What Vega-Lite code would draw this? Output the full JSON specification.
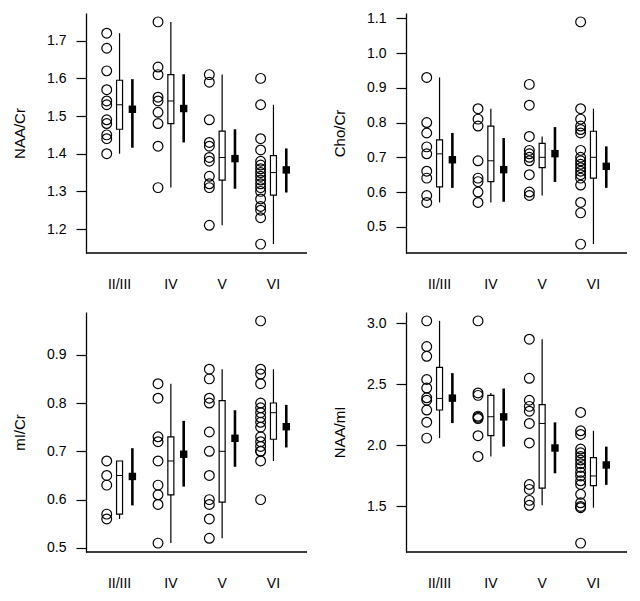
{
  "$schema": "https://vega.github.io/schema/vega-lite/v6.json",
  "background": "white",
  "padding": {"left": 12, "top": 11, "right": 5, "bottom": 5},
  "datasets": {
    "pts": [
      {"p":"A","g":"II/III","v":1.72},{"p":"A","g":"II/III","v":1.68},{"p":"A","g":"II/III","v":1.62},{"p":"A","g":"II/III","v":1.57},{"p":"A","g":"II/III","v":1.54},{"p":"A","g":"II/III","v":1.53},{"p":"A","g":"II/III","v":1.49},{"p":"A","g":"II/III","v":1.48},{"p":"A","g":"II/III","v":1.45},{"p":"A","g":"II/III","v":1.44},{"p":"A","g":"II/III","v":1.40},
      {"p":"A","g":"IV","v":1.75},{"p":"A","g":"IV","v":1.63},{"p":"A","g":"IV","v":1.61},{"p":"A","g":"IV","v":1.55},{"p":"A","g":"IV","v":1.54},{"p":"A","g":"IV","v":1.51},{"p":"A","g":"IV","v":1.48},{"p":"A","g":"IV","v":1.42},{"p":"A","g":"IV","v":1.31},
      {"p":"A","g":"V","v":1.61},{"p":"A","g":"V","v":1.59},{"p":"A","g":"V","v":1.49},{"p":"A","g":"V","v":1.43},{"p":"A","g":"V","v":1.42},{"p":"A","g":"V","v":1.39},{"p":"A","g":"V","v":1.38},{"p":"A","g":"V","v":1.34},{"p":"A","g":"V","v":1.32},{"p":"A","g":"V","v":1.31},{"p":"A","g":"V","v":1.21},
      {"p":"A","g":"VI","v":1.60},{"p":"A","g":"VI","v":1.53},{"p":"A","g":"VI","v":1.44},{"p":"A","g":"VI","v":1.41},{"p":"A","g":"VI","v":1.38},{"p":"A","g":"VI","v":1.37},{"p":"A","g":"VI","v":1.36},{"p":"A","g":"VI","v":1.35},{"p":"A","g":"VI","v":1.34},{"p":"A","g":"VI","v":1.33},{"p":"A","g":"VI","v":1.32},{"p":"A","g":"VI","v":1.31},{"p":"A","g":"VI","v":1.30},{"p":"A","g":"VI","v":1.28},{"p":"A","g":"VI","v":1.26},{"p":"A","g":"VI","v":1.25},{"p":"A","g":"VI","v":1.23},{"p":"A","g":"VI","v":1.16},
      {"p":"B","g":"II/III","v":0.93},{"p":"B","g":"II/III","v":0.80},{"p":"B","g":"II/III","v":0.77},{"p":"B","g":"II/III","v":0.73},{"p":"B","g":"II/III","v":0.71},{"p":"B","g":"II/III","v":0.66},{"p":"B","g":"II/III","v":0.64},{"p":"B","g":"II/III","v":0.59},{"p":"B","g":"II/III","v":0.57},
      {"p":"B","g":"IV","v":0.84},{"p":"B","g":"IV","v":0.81},{"p":"B","g":"IV","v":0.79},{"p":"B","g":"IV","v":0.69},{"p":"B","g":"IV","v":0.64},{"p":"B","g":"IV","v":0.63},{"p":"B","g":"IV","v":0.60},{"p":"B","g":"IV","v":0.57},
      {"p":"B","g":"V","v":0.91},{"p":"B","g":"V","v":0.85},{"p":"B","g":"V","v":0.76},{"p":"B","g":"V","v":0.72},{"p":"B","g":"V","v":0.71},{"p":"B","g":"V","v":0.70},{"p":"B","g":"V","v":0.69},{"p":"B","g":"V","v":0.65},{"p":"B","g":"V","v":0.60},{"p":"B","g":"V","v":0.59},
      {"p":"B","g":"VI","v":1.09},{"p":"B","g":"VI","v":0.84},{"p":"B","g":"VI","v":0.81},{"p":"B","g":"VI","v":0.79},{"p":"B","g":"VI","v":0.78},{"p":"B","g":"VI","v":0.77},{"p":"B","g":"VI","v":0.72},{"p":"B","g":"VI","v":0.70},{"p":"B","g":"VI","v":0.69},{"p":"B","g":"VI","v":0.68},{"p":"B","g":"VI","v":0.67},{"p":"B","g":"VI","v":0.66},{"p":"B","g":"VI","v":0.65},{"p":"B","g":"VI","v":0.64},{"p":"B","g":"VI","v":0.62},{"p":"B","g":"VI","v":0.57},{"p":"B","g":"VI","v":0.54},{"p":"B","g":"VI","v":0.45},
      {"p":"C","g":"II/III","v":0.68},{"p":"C","g":"II/III","v":0.65},{"p":"C","g":"II/III","v":0.63},{"p":"C","g":"II/III","v":0.57},{"p":"C","g":"II/III","v":0.56},
      {"p":"C","g":"IV","v":0.84},{"p":"C","g":"IV","v":0.81},{"p":"C","g":"IV","v":0.73},{"p":"C","g":"IV","v":0.72},{"p":"C","g":"IV","v":0.68},{"p":"C","g":"IV","v":0.63},{"p":"C","g":"IV","v":0.61},{"p":"C","g":"IV","v":0.59},{"p":"C","g":"IV","v":0.51},
      {"p":"C","g":"V","v":0.87},{"p":"C","g":"V","v":0.85},{"p":"C","g":"V","v":0.81},{"p":"C","g":"V","v":0.80},{"p":"C","g":"V","v":0.74},{"p":"C","g":"V","v":0.70},{"p":"C","g":"V","v":0.65},{"p":"C","g":"V","v":0.60},{"p":"C","g":"V","v":0.59},{"p":"C","g":"V","v":0.56},{"p":"C","g":"V","v":0.52},
      {"p":"C","g":"VI","v":0.97},{"p":"C","g":"VI","v":0.87},{"p":"C","g":"VI","v":0.86},{"p":"C","g":"VI","v":0.84},{"p":"C","g":"VI","v":0.80},{"p":"C","g":"VI","v":0.79},{"p":"C","g":"VI","v":0.78},{"p":"C","g":"VI","v":0.77},{"p":"C","g":"VI","v":0.76},{"p":"C","g":"VI","v":0.75},{"p":"C","g":"VI","v":0.73},{"p":"C","g":"VI","v":0.72},{"p":"C","g":"VI","v":0.71},{"p":"C","g":"VI","v":0.70},{"p":"C","g":"VI","v":0.70},{"p":"C","g":"VI","v":0.68},{"p":"C","g":"VI","v":0.60},
      {"p":"D","g":"II/III","v":3.02},{"p":"D","g":"II/III","v":2.81},{"p":"D","g":"II/III","v":2.73},{"p":"D","g":"II/III","v":2.54},{"p":"D","g":"II/III","v":2.47},{"p":"D","g":"II/III","v":2.39},{"p":"D","g":"II/III","v":2.37},{"p":"D","g":"II/III","v":2.29},{"p":"D","g":"II/III","v":2.19},{"p":"D","g":"II/III","v":2.06},
      {"p":"D","g":"IV","v":3.02},{"p":"D","g":"IV","v":2.43},{"p":"D","g":"IV","v":2.41},{"p":"D","g":"IV","v":2.24},{"p":"D","g":"IV","v":2.23},{"p":"D","g":"IV","v":2.22},{"p":"D","g":"IV","v":2.08},{"p":"D","g":"IV","v":1.91},
      {"p":"D","g":"V","v":2.87},{"p":"D","g":"V","v":2.55},{"p":"D","g":"V","v":2.37},{"p":"D","g":"V","v":2.32},{"p":"D","g":"V","v":2.28},{"p":"D","g":"V","v":2.18},{"p":"D","g":"V","v":2.02},{"p":"D","g":"V","v":1.68},{"p":"D","g":"V","v":1.64},{"p":"D","g":"V","v":1.55},{"p":"D","g":"V","v":1.51},
      {"p":"D","g":"VI","v":2.27},{"p":"D","g":"VI","v":2.12},{"p":"D","g":"VI","v":2.09},{"p":"D","g":"VI","v":1.97},{"p":"D","g":"VI","v":1.94},{"p":"D","g":"VI","v":1.91},{"p":"D","g":"VI","v":1.88},{"p":"D","g":"VI","v":1.85},{"p":"D","g":"VI","v":1.82},{"p":"D","g":"VI","v":1.78},{"p":"D","g":"VI","v":1.75},{"p":"D","g":"VI","v":1.71},{"p":"D","g":"VI","v":1.68},{"p":"D","g":"VI","v":1.60},{"p":"D","g":"VI","v":1.53},{"p":"D","g":"VI","v":1.50},{"p":"D","g":"VI","v":1.49},{"p":"D","g":"VI","v":1.20}
    ],
    "box": [
      {"p":"A","g":"II/III","lo":1.40,"q1":1.465,"med":1.53,"q3":1.595,"hi":1.72},
      {"p":"A","g":"IV","lo":1.31,"q1":1.48,"med":1.54,"q3":1.61,"hi":1.75},
      {"p":"A","g":"V","lo":1.21,"q1":1.33,"med":1.39,"q3":1.46,"hi":1.61},
      {"p":"A","g":"VI","lo":1.16,"q1":1.29,"med":1.35,"q3":1.395,"hi":1.53},
      {"p":"B","g":"II/III","lo":0.57,"q1":0.615,"med":0.71,"q3":0.75,"hi":0.93},
      {"p":"B","g":"IV","lo":0.57,"q1":0.63,"med":0.69,"q3":0.79,"hi":0.84},
      {"p":"B","g":"V","lo":0.59,"q1":0.67,"med":0.70,"q3":0.74,"hi":0.76},
      {"p":"B","g":"VI","lo":0.45,"q1":0.64,"med":0.70,"q3":0.775,"hi":0.84},
      {"p":"C","g":"II/III","lo":0.56,"q1":0.57,"med":0.65,"q3":0.68,"hi":0.68},
      {"p":"C","g":"IV","lo":0.51,"q1":0.61,"med":0.68,"q3":0.73,"hi":0.84},
      {"p":"C","g":"V","lo":0.52,"q1":0.595,"med":0.70,"q3":0.805,"hi":0.87},
      {"p":"C","g":"VI","lo":0.68,"q1":0.725,"med":0.78,"q3":0.80,"hi":0.87},
      {"p":"D","g":"II/III","lo":2.06,"q1":2.29,"med":2.385,"q3":2.64,"hi":3.02},
      {"p":"D","g":"IV","lo":1.91,"q1":2.08,"med":2.235,"q3":2.41,"hi":2.43},
      {"p":"D","g":"V","lo":1.51,"q1":1.65,"med":2.18,"q3":2.335,"hi":2.87},
      {"p":"D","g":"VI","lo":1.49,"q1":1.67,"med":1.75,"q3":1.90,"hi":2.12}
    ],
    "mean": [
      {"p":"A","g":"II/III","m":1.518,"lo":1.416,"hi":1.598},
      {"p":"A","g":"IV","m":1.52,"lo":1.43,"hi":1.611},
      {"p":"A","g":"V","m":1.387,"lo":1.307,"hi":1.465},
      {"p":"A","g":"VI","m":1.357,"lo":1.297,"hi":1.414},
      {"p":"B","g":"II/III","m":0.693,"lo":0.612,"hi":0.770},
      {"p":"B","g":"IV","m":0.6645,"lo":0.572,"hi":0.7555},
      {"p":"B","g":"V","m":0.7105,"lo":0.629,"hi":0.787},
      {"p":"B","g":"VI","m":0.674,"lo":0.612,"hi":0.7315},
      {"p":"C","g":"II/III","m":0.648,"lo":0.588,"hi":0.7065},
      {"p":"C","g":"IV","m":0.694,"lo":0.627,"hi":0.763},
      {"p":"C","g":"V","m":0.727,"lo":0.668,"hi":0.785},
      {"p":"C","g":"VI","m":0.751,"lo":0.708,"hi":0.796},
      {"p":"D","g":"II/III","m":2.3875,"lo":2.183,"hi":2.592},
      {"p":"D","g":"IV","m":2.234,"lo":1.99,"hi":2.466},
      {"p":"D","g":"V","m":1.979,"lo":1.772,"hi":2.189},
      {"p":"D","g":"VI","m":1.84,"lo":1.677,"hi":1.99}
    ]
  },
  "columns": 2,
  "spacing": {"row": 59, "column": 99},
  "bounds": "flush",
  "concat": [
    {
      "width": 221, "height": 240,
      "layer": [
        {"data": {"values": [{}]}, "mark": {"type": "rule", "color": "black", "strokeWidth": 1.3},
         "encoding": {"y": {"datum": 1.1364, "type": "quantitative", "title": "NAA/Cr"}}},
        {"data": {"name": "pts"}, "transform": [{"filter": "datum.p == 'A'"}],
         "mark": {"type": "point", "shape": "circle", "filled": false, "stroke": "black", "strokeWidth": 1.2, "size": 95, "opacity": 1},
         "encoding": {"x": {"field": "g", "type": "nominal", "title": null, "scale": {"domain": ["II/III","IV","V","VI"], "paddingInner": 0, "paddingOuter": 0.154}},
                      "xOffset": {"datum": "pts", "scale": {"domain": ["pts","box","mean"], "paddingInner": 0, "paddingOuter": 0.5}},
                      "y": {"field": "v", "type": "quantitative", "title": "NAA/Cr", "scale": {"domain": [1.1364, 1.7736], "nice": false, "zero": false}, "axis": {"values": [1.2,1.3,1.4,1.5,1.6,1.7], "tickCount": 20}}}},
        {"data": {"name": "box"}, "transform": [{"filter": "datum.p == 'A'"}],
         "mark": {"type": "rule", "color": "black", "strokeWidth": 1.2},
         "encoding": {"x": {"field": "g", "type": "nominal", "title": null}, "xOffset": {"datum": "box"},
                      "y": {"field": "lo", "type": "quantitative", "title": "NAA/Cr"}, "y2": {"field": "hi"}}},
        {"data": {"name": "box"}, "transform": [{"filter": "datum.p == 'A'"}],
         "mark": {"type": "bar", "size": 6, "fill": "white", "stroke": "black", "strokeWidth": 1.2},
         "encoding": {"x": {"field": "g", "type": "nominal", "title": null}, "xOffset": {"datum": "box"},
                      "y": {"field": "q1", "type": "quantitative", "title": "NAA/Cr"}, "y2": {"field": "q3"}}},
        {"data": {"name": "box"}, "transform": [{"filter": "datum.p == 'A'"}],
         "mark": {"type": "tick", "size": 6, "thickness": 1, "color": "black", "opacity": 1},
         "encoding": {"x": {"field": "g", "type": "nominal", "title": null}, "xOffset": {"datum": "box"},
                      "y": {"field": "med", "type": "quantitative", "title": "NAA/Cr"}}},
        {"data": {"name": "mean"}, "transform": [{"filter": "datum.p == 'A'"}],
         "mark": {"type": "rule", "color": "black", "strokeWidth": 2.6},
         "encoding": {"x": {"field": "g", "type": "nominal", "title": null}, "xOffset": {"datum": "mean"},
                      "y": {"field": "lo", "type": "quantitative", "title": "NAA/Cr"}, "y2": {"field": "hi"}}},
        {"data": {"name": "mean"}, "transform": [{"filter": "datum.p == 'A'"}],
         "mark": {"type": "point", "shape": "square", "filled": true, "color": "black", "size": 55, "opacity": 1},
         "encoding": {"x": {"field": "g", "type": "nominal", "title": null}, "xOffset": {"datum": "mean"},
                      "y": {"field": "m", "type": "quantitative", "title": "NAA/Cr"}}}
      ]
    },
    {
      "width": 221, "height": 240,
      "layer": [
        {"data": {"values": [{}]}, "mark": {"type": "rule", "color": "black", "strokeWidth": 1.3},
         "encoding": {"y": {"datum": 0.4244, "type": "quantitative", "title": "Cho/Cr"}}},
        {"data": {"name": "pts"}, "transform": [{"filter": "datum.p == 'B'"}],
         "mark": {"type": "point", "shape": "circle", "filled": false, "stroke": "black", "strokeWidth": 1.2, "size": 95, "opacity": 1},
         "encoding": {"x": {"field": "g", "type": "nominal", "title": null, "scale": {"domain": ["II/III","IV","V","VI"], "paddingInner": 0, "paddingOuter": 0.154}},
                      "xOffset": {"datum": "pts", "scale": {"domain": ["pts","box","mean"], "paddingInner": 0, "paddingOuter": 0.5}},
                      "y": {"field": "v", "type": "quantitative", "title": "Cho/Cr", "scale": {"domain": [0.4244, 1.1156], "nice": false, "zero": false}, "axis": {"values": [0.5,0.6,0.7,0.8,0.9,1.0,1.1], "tickCount": 20}}}},
        {"data": {"name": "box"}, "transform": [{"filter": "datum.p == 'B'"}],
         "mark": {"type": "rule", "color": "black", "strokeWidth": 1.2},
         "encoding": {"x": {"field": "g", "type": "nominal", "title": null}, "xOffset": {"datum": "box"},
                      "y": {"field": "lo", "type": "quantitative", "title": "Cho/Cr"}, "y2": {"field": "hi"}}},
        {"data": {"name": "box"}, "transform": [{"filter": "datum.p == 'B'"}],
         "mark": {"type": "bar", "size": 6, "fill": "white", "stroke": "black", "strokeWidth": 1.2},
         "encoding": {"x": {"field": "g", "type": "nominal", "title": null}, "xOffset": {"datum": "box"},
                      "y": {"field": "q1", "type": "quantitative", "title": "Cho/Cr"}, "y2": {"field": "q3"}}},
        {"data": {"name": "box"}, "transform": [{"filter": "datum.p == 'B'"}],
         "mark": {"type": "tick", "size": 6, "thickness": 1, "color": "black", "opacity": 1},
         "encoding": {"x": {"field": "g", "type": "nominal", "title": null}, "xOffset": {"datum": "box"},
                      "y": {"field": "med", "type": "quantitative", "title": "Cho/Cr"}}},
        {"data": {"name": "mean"}, "transform": [{"filter": "datum.p == 'B'"}],
         "mark": {"type": "rule", "color": "black", "strokeWidth": 2.6},
         "encoding": {"x": {"field": "g", "type": "nominal", "title": null}, "xOffset": {"datum": "mean"},
                      "y": {"field": "lo", "type": "quantitative", "title": "Cho/Cr"}, "y2": {"field": "hi"}}},
        {"data": {"name": "mean"}, "transform": [{"filter": "datum.p == 'B'"}],
         "mark": {"type": "point", "shape": "square", "filled": true, "color": "black", "size": 55, "opacity": 1},
         "encoding": {"x": {"field": "g", "type": "nominal", "title": null}, "xOffset": {"datum": "mean"},
                      "y": {"field": "m", "type": "quantitative", "title": "Cho/Cr"}}}
      ]
    },
    {
      "width": 221, "height": 240,
      "layer": [
        {"data": {"values": [{}]}, "mark": {"type": "rule", "color": "black", "strokeWidth": 1.3},
         "encoding": {"y": {"datum": 0.4916, "type": "quantitative", "title": "mI/Cr"}}},
        {"data": {"name": "pts"}, "transform": [{"filter": "datum.p == 'C'"}],
         "mark": {"type": "point", "shape": "circle", "filled": false, "stroke": "black", "strokeWidth": 1.2, "size": 95, "opacity": 1},
         "encoding": {"x": {"field": "g", "type": "nominal", "title": null, "scale": {"domain": ["II/III","IV","V","VI"], "paddingInner": 0, "paddingOuter": 0.154}},
                      "xOffset": {"datum": "pts", "scale": {"domain": ["pts","box","mean"], "paddingInner": 0, "paddingOuter": 0.5}},
                      "y": {"field": "v", "type": "quantitative", "title": "mI/Cr", "scale": {"domain": [0.4916, 0.9884], "nice": false, "zero": false}, "axis": {"values": [0.5,0.6,0.7,0.8,0.9], "tickCount": 20}}}},
        {"data": {"name": "box"}, "transform": [{"filter": "datum.p == 'C'"}],
         "mark": {"type": "rule", "color": "black", "strokeWidth": 1.2},
         "encoding": {"x": {"field": "g", "type": "nominal", "title": null}, "xOffset": {"datum": "box"},
                      "y": {"field": "lo", "type": "quantitative", "title": "mI/Cr"}, "y2": {"field": "hi"}}},
        {"data": {"name": "box"}, "transform": [{"filter": "datum.p == 'C'"}],
         "mark": {"type": "bar", "size": 6, "fill": "white", "stroke": "black", "strokeWidth": 1.2},
         "encoding": {"x": {"field": "g", "type": "nominal", "title": null}, "xOffset": {"datum": "box"},
                      "y": {"field": "q1", "type": "quantitative", "title": "mI/Cr"}, "y2": {"field": "q3"}}},
        {"data": {"name": "box"}, "transform": [{"filter": "datum.p == 'C'"}],
         "mark": {"type": "tick", "size": 6, "thickness": 1, "color": "black", "opacity": 1},
         "encoding": {"x": {"field": "g", "type": "nominal", "title": null}, "xOffset": {"datum": "box"},
                      "y": {"field": "med", "type": "quantitative", "title": "mI/Cr"}}},
        {"data": {"name": "mean"}, "transform": [{"filter": "datum.p == 'C'"}],
         "mark": {"type": "rule", "color": "black", "strokeWidth": 2.6},
         "encoding": {"x": {"field": "g", "type": "nominal", "title": null}, "xOffset": {"datum": "mean"},
                      "y": {"field": "lo", "type": "quantitative", "title": "mI/Cr"}, "y2": {"field": "hi"}}},
        {"data": {"name": "mean"}, "transform": [{"filter": "datum.p == 'C'"}],
         "mark": {"type": "point", "shape": "square", "filled": true, "color": "black", "size": 55, "opacity": 1},
         "encoding": {"x": {"field": "g", "type": "nominal", "title": null}, "xOffset": {"datum": "mean"},
                      "y": {"field": "m", "type": "quantitative", "title": "mI/Cr"}}}
      ]
    },
    {
      "width": 221, "height": 240,
      "layer": [
        {"data": {"values": [{}]}, "mark": {"type": "rule", "color": "black", "strokeWidth": 1.3},
         "encoding": {"y": {"datum": 1.1272, "type": "quantitative", "title": "NAA/mI"}}},
        {"data": {"name": "pts"}, "transform": [{"filter": "datum.p == 'D'"}],
         "mark": {"type": "point", "shape": "circle", "filled": false, "stroke": "black", "strokeWidth": 1.2, "size": 95, "opacity": 1},
         "encoding": {"x": {"field": "g", "type": "nominal", "title": null, "scale": {"domain": ["II/III","IV","V","VI"], "paddingInner": 0, "paddingOuter": 0.154}},
                      "xOffset": {"datum": "pts", "scale": {"domain": ["pts","box","mean"], "paddingInner": 0, "paddingOuter": 0.5}},
                      "y": {"field": "v", "type": "quantitative", "title": "NAA/mI", "scale": {"domain": [1.1272, 3.0928], "nice": false, "zero": false}, "axis": {"values": [1.5,2.0,2.5,3.0], "tickCount": 20}}}},
        {"data": {"name": "box"}, "transform": [{"filter": "datum.p == 'D'"}],
         "mark": {"type": "rule", "color": "black", "strokeWidth": 1.2},
         "encoding": {"x": {"field": "g", "type": "nominal", "title": null}, "xOffset": {"datum": "box"},
                      "y": {"field": "lo", "type": "quantitative", "title": "NAA/mI"}, "y2": {"field": "hi"}}},
        {"data": {"name": "box"}, "transform": [{"filter": "datum.p == 'D'"}],
         "mark": {"type": "bar", "size": 6, "fill": "white", "stroke": "black", "strokeWidth": 1.2},
         "encoding": {"x": {"field": "g", "type": "nominal", "title": null}, "xOffset": {"datum": "box"},
                      "y": {"field": "q1", "type": "quantitative", "title": "NAA/mI"}, "y2": {"field": "q3"}}},
        {"data": {"name": "box"}, "transform": [{"filter": "datum.p == 'D'"}],
         "mark": {"type": "tick", "size": 6, "thickness": 1, "color": "black", "opacity": 1},
         "encoding": {"x": {"field": "g", "type": "nominal", "title": null}, "xOffset": {"datum": "box"},
                      "y": {"field": "med", "type": "quantitative", "title": "NAA/mI"}}},
        {"data": {"name": "mean"}, "transform": [{"filter": "datum.p == 'D'"}],
         "mark": {"type": "rule", "color": "black", "strokeWidth": 2.6},
         "encoding": {"x": {"field": "g", "type": "nominal", "title": null}, "xOffset": {"datum": "mean"},
                      "y": {"field": "lo", "type": "quantitative", "title": "NAA/mI"}, "y2": {"field": "hi"}}},
        {"data": {"name": "mean"}, "transform": [{"filter": "datum.p == 'D'"}],
         "mark": {"type": "point", "shape": "square", "filled": true, "color": "black", "size": 55, "opacity": 1},
         "encoding": {"x": {"field": "g", "type": "nominal", "title": null}, "xOffset": {"datum": "mean"},
                      "y": {"field": "m", "type": "quantitative", "title": "NAA/mI"}}}
      ]
    }
  ],
  "config": {
    "view": {"stroke": null},
    "font": "Liberation Sans",
    "axis": {"grid": false, "domainColor": "black", "domainWidth": 1.3, "tickColor": "black", "tickWidth": 1.2,
             "labelColor": "black", "titleColor": "black", "labelFont": "Liberation Sans", "titleFont": "Liberation Sans",
             "labelFontSize": 14, "titleFontSize": 15, "titleFontWeight": "normal", "labelOverlap": false},
    "axisBand": {"domain": false, "ticks": false, "labelPadding": 24, "labelAngle": 0},
    "axisQuantitative": {"labelOverlap": false, "format": ".1f", "tickCount": 20},
    "axisLeft": {"tickSize": 10, "labelPadding": 10, "titlePadding": 19}
  }
}
